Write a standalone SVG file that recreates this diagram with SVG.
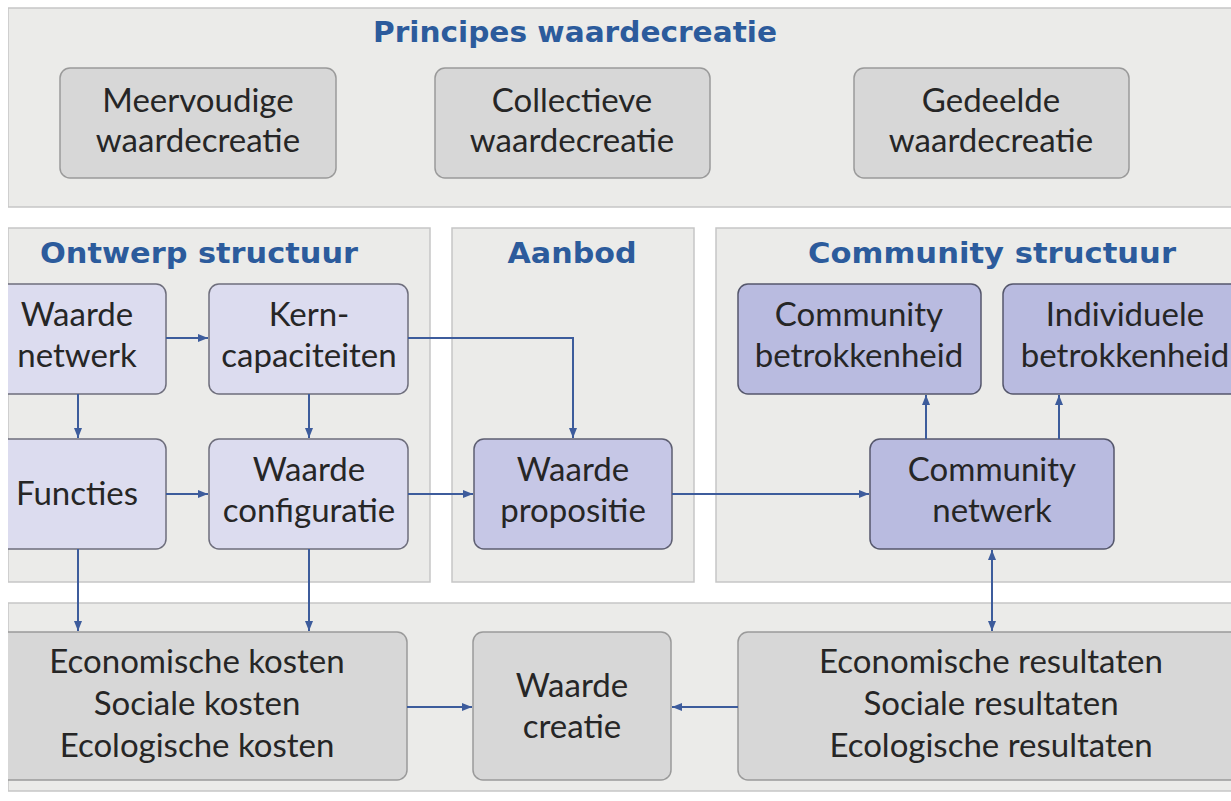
<svg xmlns="http://www.w3.org/2000/svg" width="1231" height="801" viewBox="0 0 1231 801">
  <defs>
    <style>
      .band { fill: #ebebe9; stroke: #c6c6c6; stroke-width: 1.5; }
      .grey { fill: #d7d7d7; stroke: #9a9a9a; stroke-width: 1.5; }
      .lav { fill: #dcdcef; stroke: #6e6e7c; stroke-width: 1.5; }
      .lav2 { fill: #c6c7e6; stroke: #5e5f72; stroke-width: 1.5; }
      .lav3 { fill: #b9bbe0; stroke: #55576c; stroke-width: 1.5; }
      .t { font-family: Lato, "Liberation Sans", sans-serif; font-size: 33px; fill: #262626; text-anchor: middle; }
      .h { font-family: "DejaVu Sans", "Liberation Sans", sans-serif; font-size: 29px; font-weight: bold; fill: #2c5b9c; text-anchor: middle; }
      .c { fill: none; stroke: #3d5c9c; stroke-width: 2; }
    </style>
    <marker id="ah" viewBox="0 0 10 10" refX="10" refY="5" markerWidth="10" markerHeight="10" markerUnits="userSpaceOnUse" orient="auto-start-reverse">
      <path d="M0,1 L10,5 L0,9 z" fill="#3d5c9c"/>
    </marker>
    <clipPath id="page">
      <rect x="8" y="0" width="1223" height="801"/>
    </clipPath>
  </defs>

  <rect x="0" y="0" width="1231" height="801" fill="#ffffff"/>

  <g clip-path="url(#page)">
    <!-- background bands and panels -->
    <g id="bands">
      <rect class="band" x="8" y="8" width="1240" height="199"/>
      <rect class="band" x="8" y="228" width="422" height="354"/>
      <rect class="band" x="452" y="228" width="242" height="354"/>
      <rect class="band" x="716" y="228" width="530" height="354"/>
      <rect class="band" x="8" y="603" width="1240" height="188"/>
    </g>

    <g id="titles">
      <text class="h" x="575" y="42" textLength="404" lengthAdjust="spacingAndGlyphs">Principes waardecreatie</text>
      <text class="h" x="199" y="263" textLength="318" lengthAdjust="spacingAndGlyphs">Ontwerp structuur</text>
      <text class="h" x="572" y="263" textLength="129" lengthAdjust="spacingAndGlyphs">Aanbod</text>
      <text class="h" x="992" y="263" textLength="368" lengthAdjust="spacingAndGlyphs">Community structuur</text>
    </g>

    <!-- principles -->
    <g id="meervoudige">
      <rect class="grey" x="60" y="68" width="276" height="110" rx="10"/>
      <text class="t" x="198" y="112">Meervoudige</text>
      <text class="t" x="198" y="152">waardecreatie</text>
    </g>
    <g id="collectieve">
      <rect class="grey" x="435" y="68" width="275" height="110" rx="10"/>
      <text class="t" x="572" y="112">Collectieve</text>
      <text class="t" x="572" y="152">waardecreatie</text>
    </g>
    <g id="gedeelde">
      <rect class="grey" x="854" y="68" width="275" height="110" rx="10"/>
      <text class="t" x="991" y="112">Gedeelde</text>
      <text class="t" x="991" y="152">waardecreatie</text>
    </g>

    <!-- design structure -->
    <g id="waarde-netwerk">
      <rect class="lav" x="-12" y="284" width="178" height="110" rx="10"/>
      <text class="t" x="77" y="326">Waarde</text>
      <text class="t" x="77" y="367">netwerk</text>
    </g>
    <g id="kern-capaciteiten">
      <rect class="lav" x="209" y="284" width="199" height="110" rx="10"/>
      <text class="t" x="309" y="326">Kern-</text>
      <text class="t" x="309" y="367">capaciteiten</text>
    </g>
    <g id="functies">
      <rect class="lav" x="-12" y="439" width="178" height="110" rx="10"/>
      <text class="t" x="77" y="505">Functies</text>
    </g>
    <g id="waarde-configuratie">
      <rect class="lav" x="209" y="439" width="199" height="110" rx="10"/>
      <text class="t" x="309" y="481">Waarde</text>
      <text class="t" x="309" y="522">configuratie</text>
    </g>

    <!-- offer -->
    <g id="waarde-propositie">
      <rect class="lav2" x="474" y="439" width="198" height="110" rx="10"/>
      <text class="t" x="573" y="481">Waarde</text>
      <text class="t" x="573" y="522">propositie</text>
    </g>

    <!-- community structure -->
    <g id="community-betrokkenheid">
      <rect class="lav3" x="738" y="284" width="243" height="110" rx="10"/>
      <text class="t" x="859" y="326">Community</text>
      <text class="t" x="859" y="367">betrokkenheid</text>
    </g>
    <g id="individuele-betrokkenheid">
      <rect class="lav3" x="1003" y="284" width="244" height="110" rx="10"/>
      <text class="t" x="1125" y="326">Individuele</text>
      <text class="t" x="1125" y="367">betrokkenheid</text>
    </g>
    <g id="community-netwerk">
      <rect class="lav3" x="870" y="439" width="244" height="110" rx="10"/>
      <text class="t" x="992" y="481">Community</text>
      <text class="t" x="992" y="522">netwerk</text>
    </g>

    <!-- outcomes -->
    <g id="kosten">
      <rect class="grey" x="-13" y="632" width="420" height="148" rx="10"/>
      <text class="t" x="197" y="673">Economische kosten</text>
      <text class="t" x="197" y="715">Sociale kosten</text>
      <text class="t" x="197" y="757">Ecologische kosten</text>
    </g>
    <g id="waarde-creatie">
      <rect class="grey" x="473" y="632" width="198" height="148" rx="10"/>
      <text class="t" x="572" y="697">Waarde</text>
      <text class="t" x="572" y="738">creatie</text>
    </g>
    <g id="resultaten">
      <rect class="grey" x="738" y="632" width="506" height="148" rx="10"/>
      <text class="t" x="991" y="673">Economische resultaten</text>
      <text class="t" x="991" y="715">Sociale resultaten</text>
      <text class="t" x="991" y="757">Ecologische resultaten</text>
    </g>

    <!-- connectors -->
    <g id="connectors">
      <path class="c" d="M166,338 H208" marker-end="url(#ah)"/>
      <path class="c" d="M78,394 V438" marker-end="url(#ah)"/>
      <path class="c" d="M309,394 V438" marker-end="url(#ah)"/>
      <path class="c" d="M166,494 H208" marker-end="url(#ah)"/>
      <path class="c" d="M408,338 H573 V438" marker-end="url(#ah)"/>
      <path class="c" d="M408,494 H473" marker-end="url(#ah)"/>
      <path class="c" d="M672,494 H869" marker-end="url(#ah)"/>
      <path class="c" d="M926,439 V395" marker-end="url(#ah)"/>
      <path class="c" d="M1059,439 V395" marker-end="url(#ah)"/>
      <path class="c" d="M992,550 V631" marker-start="url(#ah)" marker-end="url(#ah)"/>
      <path class="c" d="M78,549 V631" marker-end="url(#ah)"/>
      <path class="c" d="M309,549 V631" marker-end="url(#ah)"/>
      <path class="c" d="M407,707 H472" marker-end="url(#ah)"/>
      <path class="c" d="M738,707 H672" marker-end="url(#ah)"/>
    </g>
  </g>
</svg>
